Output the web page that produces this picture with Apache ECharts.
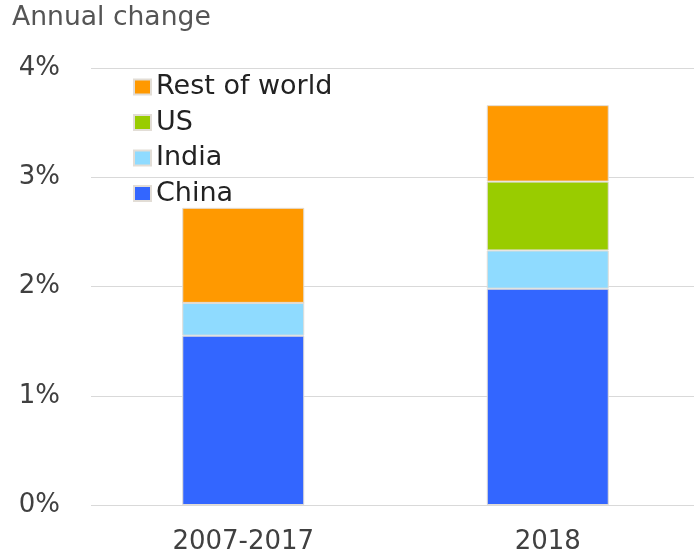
<!DOCTYPE html>
<html>
<head>
<meta charset="utf-8">
<script src="https://cdn.jsdelivr.net/npm/echarts@6/dist/echarts.min.js"></script>
<style>
  html, body { margin: 0; padding: 0; background: #fff; }
  #chart { width: 694px; height: 554px; }
</style>
</head>
<body>
<div id="chart"></div>
<script>
// Categories and stacked contributions (percentage points of annual change)
const categories = ['2007-2017', '2018'];
const china = [1.55, 1.98];
const india = [0.30, 0.35];
const us = [0, 0.63];
const restOfWorld = [0.87, 0.70];
const yTicks = [0, 1, 2, 3, 4];

const FONT = 'DejaVu Sans';
const colors = {
  china: '#3366FF',
  india: '#8FDBFF',
  us: '#99CC00',
  rest: '#FF9900'
};

function seg(name, data, color) {
  return {
    name: name,
    type: 'bar',
    stack: 'total',
    barWidth: 122,
    data: data,
    itemStyle: { color: color, borderColor: '#e2ddd6', borderWidth: 1 },
    emphasis: { disabled: true }
  };
}

const chart = echarts.init(document.getElementById('chart'), null, { renderer: 'canvas' });
chart.setOption({
  animation: false,
  backgroundColor: '#ffffff',
  title: {
    text: 'Annual change',
    left: 12,
    top: 5,
    padding: 0,
    textStyle: { fontFamily: FONT, fontSize: 26.6, fontWeight: 'normal', color: '#555555' }
  },
  legend: {
    orient: 'vertical',
    left: 133,
    top: 73.5,
    padding: 0,
    itemWidth: 17,
    itemHeight: 15,
    itemGap: 8.5,
    icon: 'rect',
    selectedMode: false,
    data: ['Rest of world', 'US', 'India', 'China'],
    textStyle: { fontFamily: FONT, fontSize: 27, color: '#222222' }
  },
  grid: { left: 91, top: 68, width: 609, height: 437, containLabel: false, outerBoundsMode: 'none' },
  xAxis: {
    type: 'category',
    data: categories,
    axisLine: { show: false },
    axisTick: { show: false },
    axisLabel: { fontFamily: FONT, fontSize: 26, color: '#404040', margin: 24 }
  },
  yAxis: {
    type: 'value',
    min: yTicks[0],
    max: yTicks[yTicks.length - 1],
    interval: 1,
    axisLine: { show: false },
    axisTick: { show: false },
    splitLine: { lineStyle: { color: '#d9d9d9', width: 1 } },
    axisLabel: {
      fontFamily: FONT, fontSize: 26, color: '#404040', margin: 31,
      formatter: v => v + '%'
    }
  },
  series: [
    seg('China', china, colors.china),
    seg('India', india, colors.india),
    seg('US', us, colors.us),
    seg('Rest of world', restOfWorld, colors.rest)
  ]
});
</script>
</body>
</html>
